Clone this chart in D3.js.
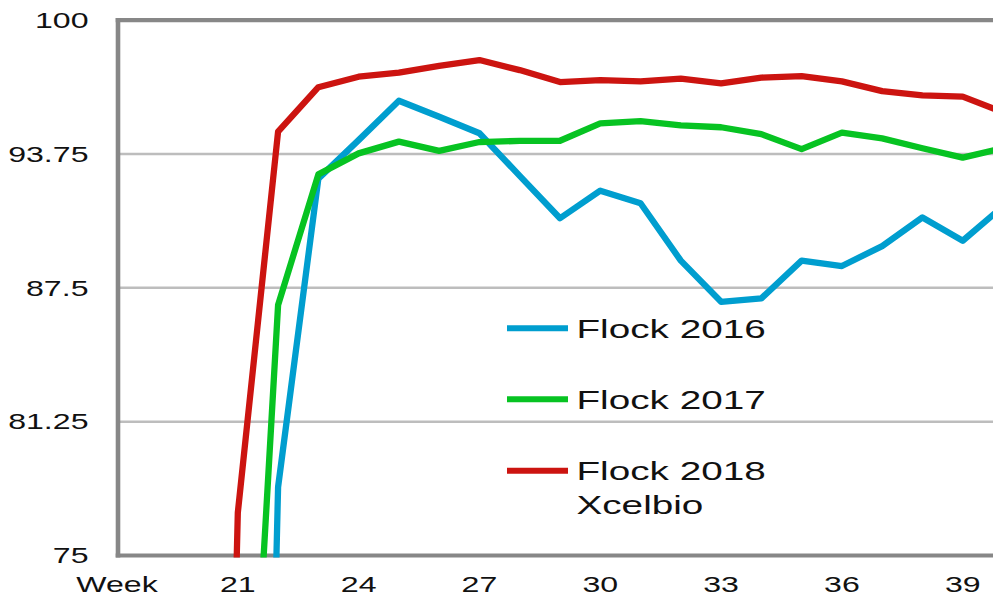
<!DOCTYPE html>
<html><head><meta charset="utf-8">
<script src="https://cdn.jsdelivr.net/npm/d3@7"></script>
<style>html,body{margin:0;padding:0;background:#fff;}svg{display:block;}</style>
</head><body>
<svg id="chart" width="993" height="596"></svg>
<script>
const weeks     = [20,21,22,23,24,25,26,27,28,29,30,31,32,33,34,35,36,37,38,39,40];
const flock2016 = [null,0,78.2,92.6,94.4,96.24,95.49,94.72,92.73,90.75,92.04,91.45,88.77,86.85,87.01,88.77,88.52,89.45,90.79,89.70,91.31];
const flock2017 = [null,54,86.7,92.8,93.78,94.33,93.9,94.31,94.36,94.37,95.18,95.29,95.09,95.0,94.68,93.98,94.75,94.48,94.02,93.58,94.02];
const flock2018 = [0,77.0,94.8,96.87,97.36,97.55,97.87,98.14,97.67,97.11,97.2,97.14,97.27,97.05,97.32,97.39,97.14,96.69,96.49,96.43,95.70];
const seriesNames = ["Flock 2016","Flock 2017","Flock 2018\nXcelbio"];
const seriesColors = ["#009ecf","#07c322","#cc1410"];
const xTickWeeks = [18,21,24,27,30,33,36,39];
const xTickLabels = ["Week","21","24","27","30","33","36","39"];
const yTicks = [75,81.25,87.5,93.75,100];
const yTickLabels = ["75","81.25","87.5","93.75","100"];

const svg = d3.select("#chart");
const SX = 1.46;
const x = d3.scaleLinear().domain([18,40]).range([117,1003]);
const y = d3.scaleLinear().domain([75,100]).range([555.5,20.2]);
const plotL = 118, plotR = 1003;

// gridlines
svg.append("g").selectAll("line").data(yTicks.filter(v=>v>75 && v<100)).join("line")
  .attr("x1",plotL).attr("x2",plotR).attr("y1",d=>y(d)).attr("y2",d=>y(d))
  .attr("stroke","#bdbdbd").attr("stroke-width",2.5);

// frame
const axisColor = "#878787";
svg.append("line").attr("x1",plotL-2.3).attr("x2",plotR).attr("y1",y(100)).attr("y2",y(100)).attr("stroke",axisColor).attr("stroke-width",4.2);
svg.append("line").attr("x1",plotL-2.3).attr("x2",plotR).attr("y1",y(75)).attr("y2",y(75)).attr("stroke",axisColor).attr("stroke-width",4.2);
svg.append("line").attr("x1",plotL).attr("x2",plotL).attr("y1",y(100)-2.1).attr("y2",y(75)+2.1).attr("stroke",axisColor).attr("stroke-width",4.6);

// y labels
svg.append("g").selectAll("text").data(yTicks).join("text")
  .attr("transform",d=>`translate(88.5,${y(d)+7.7}) scale(${SX},1)`)
  .attr("text-anchor","end").attr("font-family","Liberation Sans, Arial, sans-serif")
  .attr("font-size",22).attr("fill","#111")
  .text((d,i)=>yTickLabels[i]);

// x labels
svg.append("g").selectAll("text").data(xTickWeeks).join("text")
  .attr("transform",d=>`translate(${x(d)},591.5) scale(${SX},1)`)
  .attr("text-anchor","middle").attr("font-family","Liberation Sans, Arial, sans-serif")
  .attr("font-size",22).attr("fill","#111")
  .text((d,i)=>xTickLabels[i]);

// clip
svg.append("clipPath").attr("id","plotclip").append("rect")
  .attr("x",plotL).attr("y",18).attr("width",plotR-plotL).attr("height",557.6-18);

const line = d3.line().defined(d=>d.v!=null).x(d=>x(d.w)).y(d=>y(d.v));
const allSeries = [flock2016, flock2017, flock2018];
const g = svg.append("g").attr("clip-path","url(#plotclip)");
allSeries.forEach((vals,i)=>{
  const data = weeks.map((w,j)=>({w, v: vals[j]}));
  g.append("path").datum(data).attr("d",line)
    .attr("fill","none").attr("stroke",seriesColors[i]).attr("stroke-width",6.3)
    .attr("stroke-linejoin","round");
});

// legend
const legY = [328.3, 399.3, 470.7];
const leg = svg.append("g");
seriesNames.forEach((name,i)=>{
  leg.append("line").attr("x1",507).attr("x2",568).attr("y1",legY[i]).attr("y2",legY[i])
    .attr("stroke",seriesColors[i]).attr("stroke-width",6);
  name.split("\n").forEach((t,k)=>{
    leg.append("text")
      .attr("transform",`translate(576.5,${legY[i]+9.3+k*34}) scale(${SX},1)`)
      .attr("font-family","Liberation Sans, Arial, sans-serif").attr("font-size",26.5).attr("fill","#111")
      .text(t);
  });
});
</script>
</body></html>
